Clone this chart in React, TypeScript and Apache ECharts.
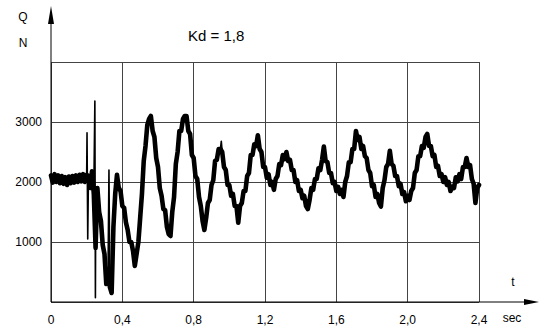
import React, { useEffect, useRef } from "react";
import * as echarts from "echarts";

// x axis: time, sec
const xTickValues = [0, 0.4, 0.8, 1.2, 1.6, 2.0, 2.4];
// y axis: load, N
const yTickValues = [1000, 2000, 3000];

// Sampled load (N), one sample per 0.01 s from 0.00 to 2.40 s
const sampleStart = 0;
const sampleStep = 0.01;
const loadValues = [
  2110, 1990, 2130, 2000, 2110, 1980, 2100, 1970, 2080, 1950, 2090, 1980, 2100, 1990, 2110, 2000, 2120, 2010, 2130, 2000, 2120,
  2100, 1900, 2180, 1800, 900, 1900, 1500, 1350, 950, 800,
  300, 550, 250, 150, 1250, 1800, 2120, 1900, 1850, 1600,
  1570, 1330, 1200, 1000, 1000, 850, 600, 800, 1000, 1400,
  1800, 2350, 2600, 2950, 3050, 3100, 2850, 2750, 2400, 2250,
  1900, 1770, 1550, 1530, 1250, 1130, 1100, 1500, 1750, 2300,
  2500, 2850, 2850, 3050, 3100, 3100, 2850, 2800, 2450, 2400,
  2100, 2050, 1750, 1600, 1350, 1200, 1400, 1650, 1700, 1950,
  2030, 2350, 2370, 2550, 2550, 2500, 2250, 2200, 1950, 1950,
  1770, 1800, 1600, 1600, 1320, 1600, 1650, 1850, 1850, 2100,
  2150, 2450, 2450, 2630, 2600, 2780, 2550, 2500, 2250, 2250,
  2070, 2130, 1950, 2000, 1870, 2050, 2100, 2300, 2280, 2450,
  2380, 2500, 2350, 2370, 2200, 2200, 2000, 2030, 1850, 1870,
  1730, 1770, 1600, 1550, 1700, 1900, 1870, 2050, 2050, 2230,
  2200, 2370, 2590, 2350, 2330, 2150, 2150, 1980, 2000, 1850,
  1920, 1800, 1870, 1750, 2000, 2100, 2330, 2330, 2550, 2550,
  2850, 2700, 2750, 2550, 2600, 2430, 2400, 2200, 2150, 1930,
  1950, 1750, 1800, 1650, 1590, 1900, 2030, 2250, 2300, 2520,
  2300, 2270, 2100, 2100, 1930, 1970, 1800, 1830, 1680, 1770,
  1700, 1850, 1900, 2150, 2200, 2430, 2430, 2600, 2570, 2750,
  2800, 2600, 2600, 2430, 2450, 2250, 2270, 2100, 2130, 2000,
  2080, 1950, 2000, 1850, 1920, 1900, 2080, 2010, 2130, 2050,
  2250, 2250, 2400, 2250, 2280, 2050, 1970, 1650, 1900, 1950,
];

// Thin transient spikes between samples (drawn with a fine line)
const spikeTimes = [0.202, 0.206, 0.246, 0.249, 0.325, 0.955];
const spikeValues = [2820, 1050, 3350, 70, 2200, 2680];

const FONT = "Liberation Sans, Arial, sans-serif";

export default function App() {
  const ref = useRef<HTMLDivElement>(null);

  useEffect(() => {
    const chart = echarts.init(ref.current!, null, { renderer: "svg" });
    const timeOf = (i: number) => +(sampleStart + i * sampleStep).toFixed(3);
    const mainPts: number[][] = loadValues.map((v, i) => [timeOf(i), v]);

    // group spikes by the sample interval they fall in
    const groups: Record<number, number[][]> = {};
    spikeTimes.forEach((t, k) => {
      const i0 = Math.floor((t - sampleStart) / sampleStep + 1e-9);
      (groups[i0] = groups[i0] || []).push([t, spikeValues[k]]);
    });
    const spikeSeries = Object.keys(groups).map((key) => {
      const i0 = Number(key);
      const pts = [mainPts[i0], ...groups[i0], mainPts[i0 + 1]];
      return {
        type: "line",
        data: pts,
        showSymbol: false,
        lineStyle: { color: "#000", width: 1.6, join: "round" },
        z: 6,
      };
    });

    const left = 51;
    const bottomY = 302;

    chart.setOption({
      animation: false,
      backgroundColor: "#fff",
      grid: { left: 51, right: 61, top: 62, bottom: 30 },
      xAxis: {
        type: "value",
        min: 0,
        max: xTickValues[xTickValues.length - 1],
        interval: 0.4,
        axisLine: { show: false },
        axisTick: { show: false },
        splitLine: { show: true, lineStyle: { color: "#444", width: 1 } },
        axisLabel: {
          color: "#000",
          fontSize: 12,
          fontFamily: FONT,
          margin: 12,
          formatter: (v: number) =>
            xTickValues.some((t) => Math.abs(t - v) < 1e-6)
              ? v === 0
                ? "0"
                : v.toFixed(1).replace(".", ",")
              : "",
        },
      },
      yAxis: {
        type: "value",
        min: 0,
        max: 4000,
        interval: 1000,
        axisLine: { show: false },
        axisTick: { show: false },
        splitLine: { show: true, lineStyle: { color: "#444", width: 1 } },
        axisLabel: {
          color: "#000",
          fontSize: 12,
          fontFamily: FONT,
          margin: 9,
          formatter: (v: number) => (yTickValues.includes(v) ? String(v) : ""),
        },
      },
      series: [
        {
          type: "line",
          data: mainPts,
          showSymbol: false,
          lineStyle: { color: "#000", width: 4.6, join: "round", cap: "round" },
          z: 5,
        },
        ...spikeSeries,
      ],
      graphic: [
        {
          type: "line",
          shape: { x1: left, y1: bottomY, x2: 528, y2: bottomY },
          style: { stroke: "#000", lineWidth: 1 },
          z: 10,
        },
        {
          type: "polygon",
          shape: { points: [[539, bottomY], [524, bottomY - 3], [524, bottomY + 3]] },
          style: { fill: "#000" },
          z: 10,
        },
        {
          type: "line",
          shape: { x1: left, y1: bottomY, x2: left, y2: 20 },
          style: { stroke: "#000", lineWidth: 1 },
          z: 10,
        },
        {
          type: "polygon",
          shape: { points: [[left, 6], [left - 3, 24], [left + 3, 24]] },
          style: { fill: "#000" },
          z: 10,
        },
        {
          type: "text",
          x: 23,
          y: 17,
          style: { text: "Q", fill: "#000", font: `12px ${FONT}`, textAlign: "center", textVerticalAlign: "middle" },
        },
        {
          type: "text",
          x: 23,
          y: 43,
          style: { text: "N", fill: "#000", font: `12px ${FONT}`, textAlign: "center", textVerticalAlign: "middle" },
        },
        {
          type: "text",
          x: 188,
          y: 35,
          style: { text: "Kd = 1,8", fill: "#000", font: `15px ${FONT}`, textAlign: "left", textVerticalAlign: "middle" },
        },
        {
          type: "text",
          x: 513,
          y: 282,
          style: { text: "t", fill: "#000", font: `12px ${FONT}`, textAlign: "center", textVerticalAlign: "middle" },
        },
        {
          type: "text",
          x: 512,
          y: 318,
          style: { text: "sec", fill: "#000", font: `12px ${FONT}`, textAlign: "center", textVerticalAlign: "middle" },
        },
      ],
    });
    return () => chart.dispose();
  }, []);

  return (
    <div
      ref={ref}
      style={{ position: "absolute", left: 0, top: 0, width: 540, height: 332 }}
    />
  );
}
